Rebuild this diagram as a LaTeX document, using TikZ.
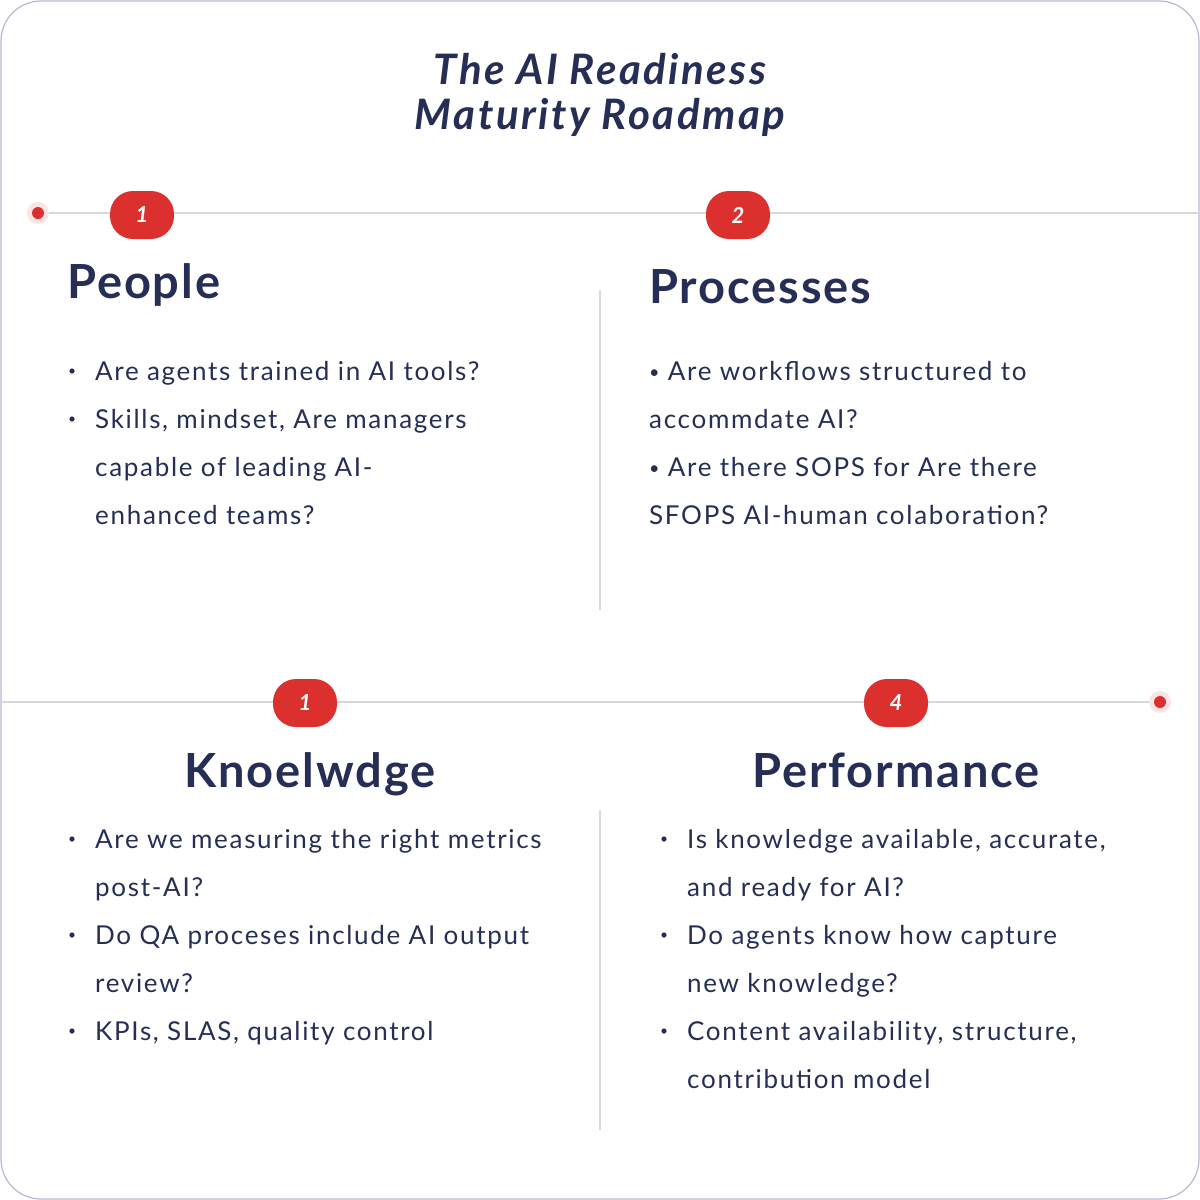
\documentclass[tikz,border=0pt]{standalone}
\usepackage{fontspec}
\setmainfont{Lato}
\newfontfamily\bodyfont[LetterSpace=6.5]{Lato}
\newfontfamily\headfont[LetterSpace=4]{Lato}
\newfontfamily\titlefont[LetterSpace=6]{Lato}
\definecolor{navy}{HTML}{262E55}
\definecolor{badgered}{HTML}{DB302D}
\definecolor{halo}{HTML}{FBE4E4}
\definecolor{rule}{HTML}{D8D8D8}
\definecolor{frame}{HTML}{B4B8D2}
\newcommand{\smallbul}{{\fontsize{18}{20}\selectfont\raisebox{2pt}{•}}}
\tikzset{
  body/.style={anchor=base west,inner sep=0pt,text=navy,font=\bodyfont\fontsize{26}{30}\selectfont},
  heading/.style={anchor=base west,inner sep=0pt,text=navy,font=\headfont\fontsize{47}{52}\selectfont\bfseries},
  headingc/.style={anchor=base,inner sep=0pt,text=navy,font=\headfont\fontsize{47}{52}\selectfont\bfseries},
  titletext/.style={anchor=base,inner sep=0pt,text=navy,font=\titlefont\fontsize{42}{46}\selectfont\bfseries\itshape},
  badge/.style={fill=badgered,rounded corners=23pt,minimum width=64pt,minimum height=48pt,inner sep=0pt,text=white,font=\fontsize{22}{24}\selectfont\bfseries\itshape},
  divider/.style={draw=rule,line width=1.4pt},
  vdiv/.style={draw=rule,line width=1.2pt},
  bul/.style={fill=navy},
}
\begin{document}
\begin{tikzpicture}[x=1pt,y=-1pt]
\useasboundingbox (0,0) rectangle (1200,1200);
\draw[frame,line width=1.2pt,rounded corners=40pt] (1,1) rectangle (1199,1199);
% title
\node[titletext] (t1) at (600,84) {The AI Readiness};
\node[titletext] (t2) at (600,129) {Maturity Roadmap};
% top rule
\coordinate (topL) at (38,213);
\coordinate (topR) at (1199,213);
\draw[divider] (topL) -- (topR);
\fill[halo] (topL) circle (11pt);
\fill[badgered] (topL) circle (6pt);
\node[badge] (b1) at (142,215) {1};
\node[badge] (b2) at (738,215) {2};
% bottom rule
\coordinate (botL) at (1,702);
\coordinate (botR) at (1160,702);
\draw[divider] (botL) -- (botR);
\fill[halo] (botR) circle (11pt);
\fill[badgered] (botR) circle (6pt);
\node[badge] (b3) at (305,703) {1};
\node[badge] (b4) at (896,703) {4};
% vertical dividers
\coordinate (v1a) at (600,290); \coordinate (v1b) at (600,610);
\coordinate (v2a) at (600,810); \coordinate (v2b) at (600,1130);
\draw[vdiv] (v1a) -- (v1b);
\draw[vdiv] (v2a) -- (v2b);
% headings
\node[heading] (hpeople) at (67,298) {People};
\node[heading] (hproc) at (649,303) {Processes};
\node[headingc] (hknow) at (310,787) {Knoelwdge};
\node[headingc] (hperf) at (896,787) {Performance};
% People bullets
\fill[bul] (72,371) circle (2.6pt);
\fill[bul] (72,419) circle (2.6pt);
\node[body] (p1) at (95,380) {Are agents trained in AI tools?};
\node[body] (p2) at (95,428) {Skills, mindset, Are managers};
\node[body] (p3) at (95,476) {capable of leading AI-};
\node[body] (p4) at (95,524) {enhanced teams?};
% Processes
\node[body] (r1) at (649,380) {\smallbul{} Are workflows structured to};
\node[body] (r2) at (649,428) {accommdate AI?};
\node[body] (r3) at (649,476) {\smallbul{} Are there SOPS for Are there};
\node[body] (r4) at (649,524) {SFOPS AI-human colaboration?};
% Knowledge
\fill[bul] (72,839) circle (2.6pt);
\fill[bul] (72,935) circle (2.6pt);
\fill[bul] (72,1031) circle (2.6pt);
\node[body] (k1) at (95,848) {Are we measuring the right metrics};
\node[body] (k2) at (95,896) {post-AI?};
\node[body] (k3) at (95,944) {Do QA proceses include AI output};
\node[body] (k4) at (95,992) {review?};
\node[body] (k5) at (95,1040) {KPIs, SLAS, quality control};
% Performance
\fill[bul] (664,839) circle (2.6pt);
\fill[bul] (664,935) circle (2.6pt);
\fill[bul] (664,1031) circle (2.6pt);
\node[body] (f1) at (687,848) {Is knowledge available, accurate,};
\node[body] (f2) at (687,896) {and ready for AI?};
\node[body] (f3) at (687,944) {Do agents know how capture};
\node[body] (f4) at (687,992) {new knowledge?};
\node[body] (f5) at (687,1040) {Content availability, structure,};
\node[body] (f6) at (687,1088) {contribution model};
\end{tikzpicture}
\end{document}
